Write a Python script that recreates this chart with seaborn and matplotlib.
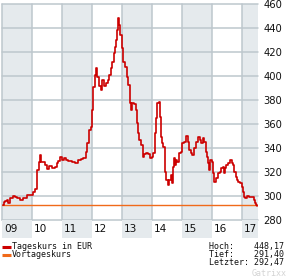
import matplotlib
matplotlib.use('Agg')
import matplotlib.pyplot as plt
import seaborn as sns
import pandas as pd

# ---------------- data ----------------
years = [
    2009.017, 2009.050, 2009.100, 2009.150, 2009.200, 2009.267, 2009.367, 2009.433,
    2009.500, 2009.600, 2009.700, 2009.833, 2009.967, 2010.033, 2010.100, 2010.150,
    2010.183, 2010.217, 2010.267, 2010.300, 2010.367, 2010.433, 2010.500, 2010.567,
    2010.667, 2010.767, 2010.833, 2010.867, 2010.933, 2011.000, 2011.067, 2011.133,
    2011.200, 2011.267, 2011.333, 2011.433, 2011.533, 2011.633, 2011.700, 2011.800,
    2011.833, 2011.900, 2011.967, 2012.000, 2012.033, 2012.100, 2012.133, 2012.167,
    2012.233, 2012.300, 2012.333, 2012.400, 2012.467, 2012.533, 2012.567, 2012.633,
    2012.667, 2012.733, 2012.767, 2012.800, 2012.833, 2012.867, 2012.900, 2012.933,
    2013.000, 2013.033, 2013.100, 2013.167, 2013.200, 2013.267, 2013.300, 2013.333,
    2013.400, 2013.467, 2013.500, 2013.533, 2013.567, 2013.633, 2013.700, 2013.733,
    2013.800, 2013.867, 2013.933, 2014.000, 2014.033, 2014.100, 2014.133, 2014.167,
    2014.233, 2014.267, 2014.300, 2014.333, 2014.367, 2014.433, 2014.467, 2014.533,
    2014.567, 2014.633, 2014.667, 2014.700, 2014.733, 2014.767, 2014.800, 2014.833,
    2014.900, 2014.967, 2015.000, 2015.067, 2015.133, 2015.200, 2015.233, 2015.300,
    2015.333, 2015.400, 2015.467, 2015.533, 2015.600, 2015.633, 2015.700, 2015.733,
    2015.800, 2015.833, 2015.867, 2015.900, 2015.933, 2016.000, 2016.033, 2016.067,
    2016.133, 2016.200, 2016.267, 2016.300, 2016.367, 2016.400, 2016.433, 2016.467,
    2016.533, 2016.600, 2016.667, 2016.700, 2016.733, 2016.800, 2016.833, 2016.867,
    2016.933, 2017.000, 2017.033, 2017.067, 2017.100, 2017.167, 2017.233, 2017.300,
    2017.367, 2017.400, 2017.433, 2017.467, 2017.500,
]
prices = [
    292.5, 295.0, 296.0, 297.0, 294.0, 298.0, 300.0, 299.0,
    298.0, 296.5, 298.0, 300.5, 301.0, 303.0, 306.0, 311.0,
    322.0, 328.0, 334.0, 328.0, 328.5, 326.0, 322.5, 325.0,
    323.0, 324.0, 327.5, 329.0, 332.5, 330.0, 331.5, 330.0,
    329.5, 329.0, 328.0, 327.5, 330.0, 331.0, 331.7, 336.7,
    344.0, 355.0, 357.5, 371.7, 391.0, 401.0, 406.7, 399.0,
    391.7, 388.0, 396.7, 391.7, 394.0, 396.7, 401.0, 406.7,
    412.0, 419.0, 424.0, 430.0, 438.0, 448.0, 442.5, 434.0,
    423.0, 412.0, 407.5, 399.0, 392.5, 377.5, 371.7, 377.5,
    377.0, 371.7, 361.0, 352.5, 346.7, 342.5, 332.5, 335.0,
    335.8, 335.0, 331.7, 332.5, 335.8, 352.5, 365.0, 377.5,
    378.0, 366.0, 349.0, 344.0, 341.0, 320.0, 313.0, 309.0,
    313.0, 317.5, 311.0, 324.0, 331.7, 326.0, 330.0, 328.0,
    335.8, 336.7, 344.0, 345.0, 350.0, 345.0, 338.0, 335.8,
    334.0, 340.0, 345.0, 349.0, 346.7, 344.0, 348.0, 345.0,
    336.7, 332.5, 327.5, 321.7, 330.0, 328.0, 319.0, 311.7,
    315.0, 319.0, 320.0, 323.0, 324.0, 319.0, 323.0, 326.0,
    327.5, 330.0, 327.5, 326.0, 320.0, 316.0, 313.0, 311.7,
    310.8, 307.5, 303.0, 299.0, 298.0, 300.0, 299.0, 299.5,
    299.0, 296.7, 294.0, 292.5, 291.5,
]
prev_close = 292.5
year_starts = [2009, 2010, 2011, 2012, 2013, 2014, 2015, 2016, 2017]
year_labels = ['09', '10', '11', '12', '13', '14', '15', '16', '17']
y_ticks = [280, 300, 320, 340, 360, 380, 400, 420, 440, 460]
legend_labels = ['Tageskurs in EUR', 'Vortageskurs']
info_lines = ['Hoch:    448,17', 'Tief:    291,40', 'Letzter: 292,47']
watermark = 'Gatrixx'

# ---------------- style ----------------
sns.set_style('white')
plt.rcParams['font.family'] = ['DejaVu Sans']

RED = '#cc0000'
ORANGE = '#f06a1a'
GRID = '#bdc7cd'
SHADE = '#e5eaed'
TEXT = '#111111'

W, H = 295, 280
fig = plt.figure(figsize=(W / 100, H / 100), dpi=100)
fig.patch.set_facecolor('white')


def rect(x0, y0, x1, y1):
    return [x0 / W, 1 - y1 / H, (x1 - x0) / W, (y1 - y0) / H]


x_min = 2009
x_max = 2009 + 256 / 30

ax = fig.add_axes(rect(2, 4, 258, 220))
for i, yr in enumerate(year_starts):
    if i % 2 == 0:
        ax.axvspan(yr, min(yr + 1, x_max), color=SHADE, lw=0, zorder=0)
for yr in year_starts:
    ax.axvline(yr, color=GRID, lw=1.1, zorder=1, clip_on=False)
for v in y_ticks:
    ax.axhline(v, color=GRID, lw=1.1, zorder=1, clip_on=False)
ax.axhline(prev_close, color=ORANGE, lw=1.0, zorder=2)

df = pd.DataFrame({'t': years, 'p': prices})
sns.lineplot(data=df, x='t', y='p', ax=ax, color=RED, lw=1.2,
             drawstyle='steps-post', estimator=None, sort=False, zorder=3)

ax.set_xlim(x_min, x_max)
ax.set_ylim(280, 460)
ax.set_xticks([])
ax.yaxis.tick_right()
ax.set_yticks(y_ticks)
ax.set_yticklabels([str(v) for v in y_ticks], fontsize=7.2, color=TEXT)
ax.tick_params(axis='y', length=0, pad=4)
ax.set_xlabel('')
ax.set_ylabel('')
for s in ax.spines.values():
    s.set_visible(False)
ax.set_facecolor('white')

# year label band
axb = fig.add_axes(rect(2, 220, 258, 238))
for i, yr in enumerate(year_starts):
    if i % 2 == 0:
        axb.axvspan(yr, min(yr + 1, x_max), color=SHADE, lw=0, zorder=0)
    axb.text(yr + 2 / 30, 0.5, year_labels[i], ha='left', va='center',
             fontsize=7.6, color=TEXT)
axb.set_xlim(x_min, x_max)
axb.set_ylim(0, 1)
axb.axis('off')

# overlay for legend/info
ov = fig.add_axes([0, 0, 1, 1])
ov.set_xlim(0, W)
ov.set_ylim(H, 0)
ov.axis('off')
ov.patch.set_alpha(0)
mono = 'DejaVu Sans Mono'
ov.plot([2, 11], [246.5, 246.5], color=RED, lw=2.2, solid_capstyle='butt')
ov.plot([2, 11], [254.5, 254.5], color=ORANGE, lw=2.2, solid_capstyle='butt')
ov.text(12, 246.5, legend_labels[0], fontsize=6, family=mono, va='center', ha='left', color=TEXT)
ov.text(12, 254.5, legend_labels[1], fontsize=6, family=mono, va='center', ha='left', color=TEXT)
for k, line in enumerate(info_lines):
    ov.text(209, 246.5 + 8 * k, line, fontsize=6, family=mono, va='center', ha='left', color=TEXT)
ov.text(287, 273, watermark, fontsize=6, family=mono, va='center', ha='right', color='#d4d4d4')

fig.savefig('out.png', dpi=100, facecolor='white')
